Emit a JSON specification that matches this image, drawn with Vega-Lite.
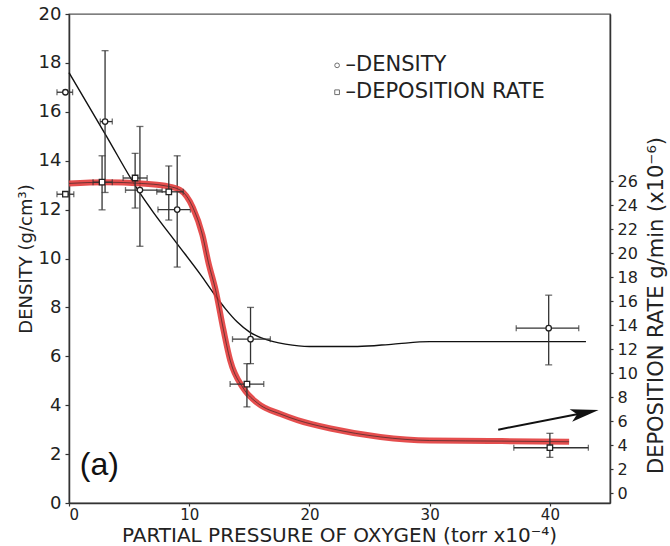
{
  "$schema": "https://vega.github.io/schema/vega-lite/v6.json",
  "width": 541,
  "height": 489,
  "autosize": {"type": "none"},
  "padding": {"left": 69, "top": 14, "right": 60, "bottom": 43},
  "config": {
    "font": "DejaVu Sans",
    "view": {"stroke": "#555", "strokeWidth": 1.3},
    "axis": {"grid": false, "domainColor": "#333", "domainWidth": 1.5, "tickColor": "#333", "tickWidth": 1.2, "labelColor": "#222", "titleColor": "#222", "labelFont": "DejaVu Sans", "titleFont": "DejaVu Sans", "titleFontWeight": "normal", "labelOverlap": false}
  },
  "datasets": {
    "dens_curve": [
      {"x": 0, "y": 17.6}, {"x": 3, "y": 15.1}, {"x": 6, "y": 12.6}, {"x": 7, "y": 11.9}, {"x": 9, "y": 10.6},
      {"x": 11, "y": 9.3}, {"x": 12, "y": 8.6}, {"x": 13, "y": 7.95}, {"x": 14, "y": 7.4}, {"x": 15, "y": 7.0},
      {"x": 16, "y": 6.75}, {"x": 17, "y": 6.6}, {"x": 18, "y": 6.5}, {"x": 20, "y": 6.4}, {"x": 24, "y": 6.4},
      {"x": 27, "y": 6.5}, {"x": 30, "y": 6.6}, {"x": 36, "y": 6.6}, {"x": 43, "y": 6.6}
    ],
    "dens_pts": [
      {"x": -0.3, "y": 16.8, "xlo": -1.0, "xhi": 0.3},
      {"x": 3.0, "y": 15.6, "ylo": 12.7, "yhi": 18.5, "xlo": 2.6, "xhi": 3.6},
      {"x": 5.9, "y": 12.8, "ylo": 10.5, "yhi": 15.4, "xlo": 4.7, "xhi": 7.75},
      {"x": 9.0, "y": 12.0, "ylo": 9.65, "yhi": 14.2, "xlo": 7.4, "xhi": 10.1},
      {"x": 15.1, "y": 6.7, "ylo": 5.7, "yhi": 8.0, "xlo": 13.6, "xhi": 16.75},
      {"x": 39.9, "y": 7.15, "ylo": 5.65, "yhi": 8.5, "xlo": 37.2, "xhi": 42.4}
    ],
    "dep_curve": [
      {"x": 0, "y": 25.8}, {"x": 3, "y": 25.9}, {"x": 6, "y": 25.8}, {"x": 8, "y": 25.6}, {"x": 9.25, "y": 25.25},
      {"x": 10.3, "y": 23.8}, {"x": 11.1, "y": 21.5}, {"x": 11.6, "y": 19.2}, {"x": 12.2, "y": 16.9}, {"x": 12.85, "y": 13.6},
      {"x": 13.4, "y": 11.1}, {"x": 14.5, "y": 8.75}, {"x": 15.7, "y": 7.5}, {"x": 17.6, "y": 6.6}, {"x": 19, "y": 6.1},
      {"x": 21.75, "y": 5.4}, {"x": 25.9, "y": 4.7}, {"x": 30, "y": 4.4}, {"x": 36, "y": 4.35}, {"x": 41.6, "y": 4.3}
    ],
    "dep_pts": [
      {"x": -0.3, "y": 24.9, "xlo": -1.0, "xhi": 0.4},
      {"x": 2.75, "y": 25.9, "ylo": 23.6, "yhi": 28.1, "xlo": 2.0, "xhi": 3.6},
      {"x": 5.5, "y": 26.25, "ylo": 23.75, "yhi": 28.3, "xlo": 4.5, "xhi": 6.5},
      {"x": 8.3, "y": 25.1, "ylo": 22.75, "yhi": 27.25, "xlo": 7.3, "xhi": 9.5},
      {"x": 14.8, "y": 9.1, "ylo": 7.2, "yhi": 10.8, "xlo": 13.4, "xhi": 16.2},
      {"x": 40.0, "y": 3.8, "ylo": 3.0, "yhi": 5.0, "xlo": 37.0, "xhi": 43.2}
    ],
    "legend": [
      {"x": 22.3, "y": 17.9, "tx": 23.0, "label": "–DENSITY", "sym": "circle"},
      {"x": 22.3, "y": 16.8, "tx": 23.0, "label": "–DEPOSITION RATE", "sym": "square"}
    ],
    "arrow_line": [{"x": 35.7, "y": 3.0}, {"x": 43.0, "y": 3.7}],
    "arrow_head": [{"x": 42.9, "y": 3.69}],
    "panel": [{"x": 0.9, "y": 1.55, "label": "(a)"}]
  },
  "layer": [
    {
      "layer": [
        {
          "data": {"name": "dens_curve"},
          "mark": {"type": "line", "color": "#111", "strokeWidth": 1.4, "interpolate": "monotone"},
          "encoding": {
            "x": {"field": "x", "type": "quantitative", "scale": {"domain": [0, 45], "nice": false, "zero": false}, "title": "PARTIAL PRESSURE OF OXYGEN (torr x10⁻⁴)", "axis": {"values": [0, 10, 20, 30, 40], "tickCount": 10, "labelFontSize": 15, "titleFontSize": 20, "tickSize": 3, "labelPadding": 1, "titleY": 38, "titleBaseline": "alphabetic", "titleX": 270}},
            "y": {"field": "y", "type": "quantitative", "scale": {"domain": [0, 20], "nice": false, "zero": false}, "title": "DENSITY (g/cm³)", "axis": {"orient": "left", "values": [0, 2, 4, 6, 8, 10, 12, 14, 16, 18, 20], "tickCount": 20, "labelFontSize": 18, "titleFontSize": 18, "tickSize": 4, "labelPadding": 4, "titlePadding": 3}}
          }
        },
        {
          "data": {"name": "dens_pts"},
          "transform": [{"filter": "isValid(datum.ylo)"}],
          "mark": {"type": "rule", "color": "#333", "strokeWidth": 1.3},
          "encoding": {
            "x": {"field": "x", "type": "quantitative", "scale": {"domain": [0, 45], "nice": false, "zero": false}, "title": "PARTIAL PRESSURE OF OXYGEN (torr x10⁻⁴)"},
            "y": {"field": "ylo", "type": "quantitative", "scale": {"domain": [0, 20], "nice": false, "zero": false}, "title": "DENSITY (g/cm³)"},
            "y2": {"field": "yhi"}
          }
        },
        {
          "data": {"name": "dens_pts"},
          "mark": {"type": "rule", "color": "#333", "strokeWidth": 1.3},
          "encoding": {
            "x": {"field": "xlo", "type": "quantitative", "scale": {"domain": [0, 45], "nice": false, "zero": false}, "title": "PARTIAL PRESSURE OF OXYGEN (torr x10⁻⁴)"},
            "x2": {"field": "xhi"},
            "y": {"field": "y", "type": "quantitative", "scale": {"domain": [0, 20], "nice": false, "zero": false}, "title": "DENSITY (g/cm³)"}
          }
        },
        {
          "data": {"name": "dens_pts"},
          "transform": [{"fold": ["ylo", "yhi"], "as": ["k", "v"]}, {"filter": "isValid(datum.v)"}],
          "mark": {"type": "tick", "orient": "horizontal", "color": "#333", "size": 7, "thickness": 1.3},
          "encoding": {
            "x": {"field": "x", "type": "quantitative", "scale": {"domain": [0, 45], "nice": false, "zero": false}, "title": "PARTIAL PRESSURE OF OXYGEN (torr x10⁻⁴)"},
            "y": {"field": "v", "type": "quantitative", "scale": {"domain": [0, 20], "nice": false, "zero": false}, "title": "DENSITY (g/cm³)"}
          }
        },
        {
          "data": {"name": "dens_pts"},
          "transform": [{"fold": ["xlo", "xhi"], "as": ["k", "v"]}, {"filter": "isValid(datum.v)"}],
          "mark": {"type": "tick", "orient": "vertical", "color": "#333", "size": 6, "thickness": 1.3},
          "encoding": {
            "x": {"field": "v", "type": "quantitative", "scale": {"domain": [0, 45], "nice": false, "zero": false}, "title": "PARTIAL PRESSURE OF OXYGEN (torr x10⁻⁴)"},
            "y": {"field": "y", "type": "quantitative", "scale": {"domain": [0, 20], "nice": false, "zero": false}, "title": "DENSITY (g/cm³)"}
          }
        },
        {
          "data": {"name": "dens_pts"},
          "mark": {"type": "point", "shape": "circle", "size": 30, "filled": false, "color": "#222", "strokeWidth": 1.3, "fill": "white", "fillOpacity": 1},
          "encoding": {
            "x": {"field": "x", "type": "quantitative", "scale": {"domain": [0, 45], "nice": false, "zero": false}, "title": "PARTIAL PRESSURE OF OXYGEN (torr x10⁻⁴)"},
            "y": {"field": "y", "type": "quantitative", "scale": {"domain": [0, 20], "nice": false, "zero": false}, "title": "DENSITY (g/cm³)"}
          }
        },
        {
          "data": {"name": "legend"},
          "mark": {"type": "point", "size": 22, "filled": false, "color": "#333", "strokeWidth": 1},
          "encoding": {
            "x": {"field": "x", "type": "quantitative", "scale": {"domain": [0, 45], "nice": false, "zero": false}, "title": "PARTIAL PRESSURE OF OXYGEN (torr x10⁻⁴)"},
            "y": {"field": "y", "type": "quantitative", "scale": {"domain": [0, 20], "nice": false, "zero": false}, "title": "DENSITY (g/cm³)"},
            "shape": {"field": "sym", "type": "nominal", "scale": {"domain": ["circle", "square"], "range": ["circle", "square"]}, "legend": null}
          }
        },
        {
          "data": {"name": "legend"},
          "mark": {"type": "text", "align": "left", "baseline": "middle", "fontSize": 21, "color": "#222"},
          "encoding": {
            "x": {"field": "tx", "type": "quantitative", "scale": {"domain": [0, 45], "nice": false, "zero": false}, "title": "PARTIAL PRESSURE OF OXYGEN (torr x10⁻⁴)"},
            "y": {"field": "y", "type": "quantitative", "scale": {"domain": [0, 20], "nice": false, "zero": false}, "title": "DENSITY (g/cm³)"},
            "text": {"field": "label"}
          }
        },
        {
          "data": {"name": "panel"},
          "mark": {"type": "text", "align": "left", "baseline": "middle", "fontSize": 32, "color": "#111", "font": "Liberation Sans"},
          "encoding": {
            "x": {"field": "x", "type": "quantitative", "scale": {"domain": [0, 45], "nice": false, "zero": false}, "title": "PARTIAL PRESSURE OF OXYGEN (torr x10⁻⁴)"},
            "y": {"field": "y", "type": "quantitative", "scale": {"domain": [0, 20], "nice": false, "zero": false}, "title": "DENSITY (g/cm³)"},
            "text": {"field": "label"}
          }
        },
        {
          "data": {"name": "arrow_line"},
          "mark": {"type": "line", "color": "#111", "strokeWidth": 2},
          "encoding": {
            "x": {"field": "x", "type": "quantitative", "scale": {"domain": [0, 45], "nice": false, "zero": false}, "title": "PARTIAL PRESSURE OF OXYGEN (torr x10⁻⁴)"},
            "y": {"field": "y", "type": "quantitative", "scale": {"domain": [0, 20], "nice": false, "zero": false}, "title": "DENSITY (g/cm³)"}
          }
        },
        {
          "data": {"name": "arrow_head"},
          "mark": {"type": "point", "shape": "M-1,-0.45L1,0L-1,0.45L-0.55,0Z", "size": 800, "filled": true, "color": "#111", "angle": -11.3, "opacity": 1},
          "encoding": {
            "x": {"field": "x", "type": "quantitative", "scale": {"domain": [0, 45], "nice": false, "zero": false}, "title": "PARTIAL PRESSURE OF OXYGEN (torr x10⁻⁴)"},
            "y": {"field": "y", "type": "quantitative", "scale": {"domain": [0, 20], "nice": false, "zero": false}, "title": "DENSITY (g/cm³)"}
          }
        }
      ]
    },
    {
      "layer": [
        {
          "data": {"name": "dep_curve"},
          "mark": {"type": "line", "color": "#e23b3b", "strokeWidth": 6, "opacity": 0.9, "interpolate": "monotone"},
          "encoding": {
            "x": {"field": "x", "type": "quantitative", "scale": {"domain": [0, 45], "nice": false, "zero": false}, "title": "PARTIAL PRESSURE OF OXYGEN (torr x10⁻⁴)"},
            "y": {"field": "y", "type": "quantitative", "scale": {"domain": [-0.8, 39.9], "nice": false, "zero": false}, "title": "DEPOSITION RATE g/min (x10⁻⁶)", "axis": {"orient": "right", "values": [0, 2, 4, 6, 8, 10, 12, 14, 16, 18, 20, 22, 24, 26], "tickCount": 30, "labelOverlap": false, "labelFontSize": 16, "titleFontSize": 21, "tickSize": 3, "labelPadding": 4, "titlePadding": 8, "titleAngle": -90, "titleBaseline": "top", "titleY": 291}}
          }
        },
        {
          "data": {"name": "dep_curve"},
          "mark": {"type": "line", "color": "#222", "strokeWidth": 1, "opacity": 0.6, "interpolate": "monotone"},
          "encoding": {
            "x": {"field": "x", "type": "quantitative", "scale": {"domain": [0, 45], "nice": false, "zero": false}, "title": "PARTIAL PRESSURE OF OXYGEN (torr x10⁻⁴)"},
            "y": {"field": "y", "type": "quantitative", "scale": {"domain": [-0.8, 39.9], "nice": false, "zero": false}, "title": "DEPOSITION RATE g/min (x10⁻⁶)"}
          }
        },
        {
          "data": {"name": "dep_pts"},
          "transform": [{"filter": "isValid(datum.ylo)"}],
          "mark": {"type": "rule", "color": "#333", "strokeWidth": 1.3},
          "encoding": {
            "x": {"field": "x", "type": "quantitative", "scale": {"domain": [0, 45], "nice": false, "zero": false}, "title": "PARTIAL PRESSURE OF OXYGEN (torr x10⁻⁴)"},
            "y": {"field": "ylo", "type": "quantitative", "scale": {"domain": [-0.8, 39.9], "nice": false, "zero": false}, "title": "DEPOSITION RATE g/min (x10⁻⁶)"},
            "y2": {"field": "yhi"}
          }
        },
        {
          "data": {"name": "dep_pts"},
          "mark": {"type": "rule", "color": "#333", "strokeWidth": 1.3},
          "encoding": {
            "x": {"field": "xlo", "type": "quantitative", "scale": {"domain": [0, 45], "nice": false, "zero": false}, "title": "PARTIAL PRESSURE OF OXYGEN (torr x10⁻⁴)"},
            "x2": {"field": "xhi"},
            "y": {"field": "y", "type": "quantitative", "scale": {"domain": [-0.8, 39.9], "nice": false, "zero": false}, "title": "DEPOSITION RATE g/min (x10⁻⁶)"}
          }
        },
        {
          "data": {"name": "dep_pts"},
          "transform": [{"fold": ["ylo", "yhi"], "as": ["k", "v"]}, {"filter": "isValid(datum.v)"}],
          "mark": {"type": "tick", "orient": "horizontal", "color": "#333", "size": 7, "thickness": 1.3},
          "encoding": {
            "x": {"field": "x", "type": "quantitative", "scale": {"domain": [0, 45], "nice": false, "zero": false}, "title": "PARTIAL PRESSURE OF OXYGEN (torr x10⁻⁴)"},
            "y": {"field": "v", "type": "quantitative", "scale": {"domain": [-0.8, 39.9], "nice": false, "zero": false}, "title": "DEPOSITION RATE g/min (x10⁻⁶)"}
          }
        },
        {
          "data": {"name": "dep_pts"},
          "transform": [{"fold": ["xlo", "xhi"], "as": ["k", "v"]}, {"filter": "isValid(datum.v)"}],
          "mark": {"type": "tick", "orient": "vertical", "color": "#333", "size": 6, "thickness": 1.3},
          "encoding": {
            "x": {"field": "v", "type": "quantitative", "scale": {"domain": [0, 45], "nice": false, "zero": false}, "title": "PARTIAL PRESSURE OF OXYGEN (torr x10⁻⁴)"},
            "y": {"field": "y", "type": "quantitative", "scale": {"domain": [-0.8, 39.9], "nice": false, "zero": false}, "title": "DEPOSITION RATE g/min (x10⁻⁶)"}
          }
        },
        {
          "data": {"name": "dep_pts"},
          "mark": {"type": "point", "shape": "square", "size": 30, "filled": false, "color": "#222", "strokeWidth": 1.3, "fill": "white", "fillOpacity": 1},
          "encoding": {
            "x": {"field": "x", "type": "quantitative", "scale": {"domain": [0, 45], "nice": false, "zero": false}, "title": "PARTIAL PRESSURE OF OXYGEN (torr x10⁻⁴)"},
            "y": {"field": "y", "type": "quantitative", "scale": {"domain": [-0.8, 39.9], "nice": false, "zero": false}, "title": "DEPOSITION RATE g/min (x10⁻⁶)"}
          }
        }
      ]
    }
  ],
  "resolve": {"scale": {"y": "independent"}, "axis": {"y": "independent"}}
}
